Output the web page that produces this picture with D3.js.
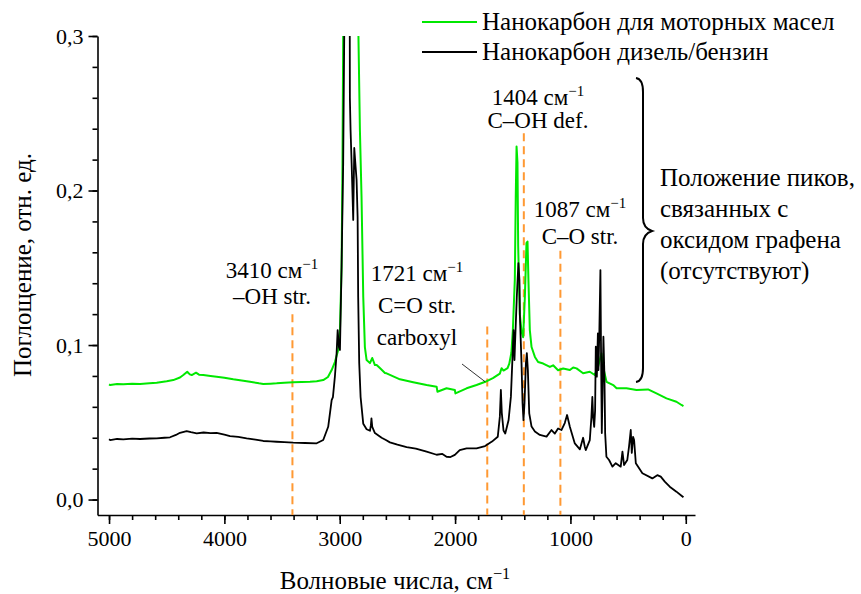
<!DOCTYPE html>
<html>
<head>
<meta charset="utf-8">
<script src="https://cdn.jsdelivr.net/npm/d3@7"></script>
<style>
  body { margin: 0; background: #fff; }
</style>
</head>
<body>
<svg id="chart" width="861" height="594"></svg>
<script>
// IR absorbance spectra: wavenumber (cm-1) and absorbance (arb. units)
const greenWn = [5000, 4990, 4930, 4876, 4800, 4731, 4650, 4587, 4500, 4443, 4385, 4356, 4322, 4300, 4283, 4246, 4220, 4183, 4120, 4067, 4000, 3923, 3850, 3778, 3700, 3663, 3600, 3547, 3480, 3403, 3330, 3258, 3200, 3143, 3102, 3070, 3042, 3013, 2998, 2984, 2976, 2970, 2960, 2900, 2850, 2842, 2825, 2811, 2796, 2782, 2767, 2738, 2718, 2695, 2680, 2652, 2608, 2594, 2478, 2363, 2247, 2160, 2153, 2074, 2002, 1997, 1900, 1814, 1738, 1672, 1612, 1597, 1580, 1545, 1530, 1512, 1499, 1482, 1474, 1467, 1459, 1453, 1439, 1424, 1410, 1395, 1381, 1372, 1364, 1352, 1337, 1308, 1280, 1236, 1178, 1150, 1107, 1063, 1005, 976, 947, 890, 832, 789, 760, 731, 717, 687, 629, 600, 514, 427, 327, 254, 167, 81, 37, 20];
const greenAbs = [0.0745, 0.0741, 0.0748, 0.0746, 0.0750, 0.0748, 0.0752, 0.0756, 0.0765, 0.0773, 0.0790, 0.0806, 0.0827, 0.0810, 0.0806, 0.0821, 0.0808, 0.0806, 0.0800, 0.0795, 0.0788, 0.0778, 0.0770, 0.0762, 0.0752, 0.0748, 0.0750, 0.0752, 0.0756, 0.0759, 0.0760, 0.0762, 0.0765, 0.0773, 0.0793, 0.0838, 0.0890, 0.0968, 0.1097, 0.1505, 0.218, 0.2994, 0.40, 0.40, 0.40, 0.32, 0.239, 0.196, 0.131, 0.0987, 0.0903, 0.0883, 0.0916, 0.0870, 0.0871, 0.0851, 0.0819, 0.0817, 0.0778, 0.0759, 0.0741, 0.0730, 0.0698, 0.0720, 0.0709, 0.0687, 0.0720, 0.0741, 0.0762, 0.0786, 0.0815, 0.0850, 0.0835, 0.0850, 0.0880, 0.0950, 0.1097, 0.1425, 0.196, 0.2285, 0.218, 0.164, 0.120, 0.109, 0.105, 0.131, 0.166, 0.167, 0.142, 0.1097, 0.0987, 0.0923, 0.0890, 0.0880, 0.0858, 0.0869, 0.0837, 0.0848, 0.0838, 0.0855, 0.0849, 0.0817, 0.0827, 0.0806, 0.0860, 0.0946, 0.0860, 0.0762, 0.0741, 0.0720, 0.0720, 0.0709, 0.0713, 0.0687, 0.0655, 0.0633, 0.0612, 0.0605];

const blackWn = [5000, 4990, 4930, 4876, 4800, 4731, 4650, 4587, 4520, 4471, 4420, 4385, 4327, 4290, 4240, 4180, 4120, 4067, 4000, 3951, 3880, 3807, 3730, 3663, 3600, 3547, 3480, 3403, 3300, 3200, 3143, 3100, 3070, 3059, 3042, 3027, 3018, 3007, 2998, 2984, 2970, 2961, 2950, 2915, 2912, 2906, 2897, 2883, 2874, 2862, 2854, 2845, 2840, 2831, 2819, 2796, 2767, 2738, 2730, 2725, 2718, 2695, 2637, 2600, 2565, 2500, 2420, 2340, 2247, 2160, 2110, 2074, 2040, 2002, 1960, 1900, 1814, 1740, 1680, 1630, 1612, 1603, 1595, 1580, 1565, 1536, 1516, 1502, 1493, 1485, 1480, 1465, 1451, 1442, 1438, 1424, 1415, 1407, 1398, 1386, 1378, 1369, 1357, 1337, 1308, 1265, 1207, 1164, 1135, 1107, 1078, 1049, 1029, 1005, 962, 918, 890, 875, 867, 832, 818, 810, 803, 794, 786, 780, 771, 762, 757, 749, 740, 734, 728, 722, 714, 705, 699, 688, 665, 636, 607, 564, 549, 535, 507, 492, 477, 468, 457, 448, 433, 376, 290, 247, 217, 182, 139, 81, 37, 20];
const blackAbs = [0.0390, 0.0385, 0.0392, 0.0390, 0.0394, 0.0392, 0.0395, 0.0396, 0.0400, 0.0403, 0.0418, 0.0432, 0.0443, 0.0436, 0.0428, 0.0434, 0.0430, 0.0432, 0.0420, 0.0411, 0.0405, 0.0396, 0.0388, 0.0379, 0.0376, 0.0374, 0.0371, 0.0368, 0.0366, 0.0364, 0.0385, 0.0471, 0.0644, 0.0663, 0.0795, 0.0948, 0.1097, 0.0987, 0.0968, 0.1505, 0.218, 0.2994, 0.40, 0.40, 0.260, 0.239, 0.218, 0.181, 0.2275, 0.215, 0.207, 0.183, 0.131, 0.0883, 0.0663, 0.0490, 0.0455, 0.0445, 0.0480, 0.0525, 0.0470, 0.0430, 0.0400, 0.0385, 0.0370, 0.0355, 0.0340, 0.0330, 0.0310, 0.0290, 0.0295, 0.0277, 0.0275, 0.0289, 0.0320, 0.0331, 0.0331, 0.0346, 0.0375, 0.0406, 0.0535, 0.0709, 0.0561, 0.0447, 0.0427, 0.0515, 0.0666, 0.0925, 0.1097, 0.0903, 0.1013, 0.131, 0.153, 0.142, 0.119, 0.0882, 0.0623, 0.0514, 0.0625, 0.0882, 0.0948, 0.0838, 0.0558, 0.0472, 0.0440, 0.0418, 0.0407, 0.0450, 0.0427, 0.0460, 0.0450, 0.0495, 0.0547, 0.0471, 0.0363, 0.0325, 0.0400, 0.0340, 0.0320, 0.0385, 0.0534, 0.0664, 0.0534, 0.0470, 0.0577, 0.0989, 0.0795, 0.1075, 0.0838, 0.1097, 0.1485, 0.0903, 0.0430, 0.0686, 0.1054, 0.0795, 0.0430, 0.0277, 0.0256, 0.0213, 0.0235, 0.0213, 0.0310, 0.0223, 0.0256, 0.0342, 0.0450, 0.0302, 0.0406, 0.0385, 0.0235, 0.0170, 0.0137, 0.0158, 0.0148, 0.0116, 0.0083, 0.0051, 0.0025, 0.0015];

const seriesNames = ["Нанокарбон для моторных масел", "Нанокарбон дизель/бензин"];
const seriesColors = ["#00e800", "#000000"];

// Assigned band positions (cm-1) and their labels
const bandWn = [3410, 1721, 1404, 1087];
const bandTop = [0.12, 0.112, 0.237, 0.161];
const bandLabels = [["3410 см", "–OH str."], ["1721 см", "C=O str.", "carboxyl"], ["1404 см", "C–OH def."], ["1087 см", "C–O str."]];

const xMajorTicks = [5000, 4000, 3000, 2000, 1000, 0];
const xMinorTicks = d3.range(5000, -1, -200);
const yMajorTicks = [0, 0.1, 0.2, 0.3];
const yMinorTicks = [0, 0.02, 0.04, 0.06, 0.08, 0.1, 0.12, 0.14, 0.16, 0.18, 0.2, 0.22, 0.24, 0.26, 0.28, 0.3];
const yTickLabels = ["0,0", "0,1", "0,2", "0,3"];

const braceNote = ["Положение пиков,", "связанных с", "оксидом графена", "(отсутствуют)"];

const FONT = '"Liberation Serif", "Times New Roman", serif';
const svg = d3.select("#chart");
const x = d3.scaleLinear().domain([5100, -80]).range([97.5, 695]);
const y = d3.scaleLinear().domain([-0.01, 0.3]).range([515, 36]);

svg.append("defs").append("clipPath").attr("id", "plotClip")
  .append("rect").attr("x", x(5100)).attr("y", y(0.3))
  .attr("width", x(-80) - x(5100)).attr("height", y(-0.01) - y(0.3));

// Axes: minor ticks first, then labelled major ticks
const gx = svg.append("g").attr("transform", `translate(0,${y(-0.01)})`);
gx.call(d3.axisBottom(x).tickValues(xMinorTicks).tickSize(5).tickSizeOuter(0).tickFormat(""));
gx.append("g").call(d3.axisBottom(x).tickValues(xMajorTicks).tickSize(9).tickSizeOuter(0).tickPadding(6).tickFormat(d3.format("d")))
  .call(g => g.select(".domain").remove());
const gy = svg.append("g").attr("transform", `translate(${x(5100)},0)`);
gy.call(d3.axisLeft(y).tickValues(yMinorTicks).tickSize(5).tickSizeOuter(0).tickFormat(""));
gy.append("g").call(d3.axisLeft(y).tickValues(yMajorTicks).tickSize(9).tickSizeOuter(0).tickPadding(5).tickFormat((d, i) => yTickLabels[i]))
  .call(g => g.select(".domain").remove());
svg.selectAll(".tick line, .domain").attr("stroke", "#000").attr("stroke-width", 1.6);
svg.selectAll(".tick text").style("font-size", "22px");

// Band marker lines
svg.append("g").selectAll("line").data(bandWn).join("line")
  .attr("x1", d => x(d)).attr("x2", d => x(d))
  .attr("y1", (d, i) => y(bandTop[i])).attr("y2", y(-0.01))
  .attr("stroke", "#ff9933").attr("stroke-width", 2).attr("stroke-dasharray", "8,5");

// Spectra
const line = d3.line().x(d => x(d[0])).y(d => y(d[1]));
const plot = svg.append("g").attr("clip-path", "url(#plotClip)");
plot.append("path").datum(greenWn.map((w, i) => [w, greenAbs[i]]))
  .attr("d", line).attr("fill", "none").attr("stroke", seriesColors[0]).attr("stroke-width", 2).attr("stroke-linejoin", "round");
plot.append("path").datum(blackWn.map((w, i) => [w, blackAbs[i]]))
  .attr("d", line).attr("fill", "none").attr("stroke", seriesColors[1]).attr("stroke-width", 1.8).attr("stroke-linejoin", "round");

// Text helper with a superscript "−1"
function labelWithSup(g, xPos, yPos, base, anchor, size) {
  const t = g.append("text").attr("x", xPos).attr("y", yPos).attr("text-anchor", anchor).style("font-size", size + "px");
  t.append("tspan").text(base);
  t.append("tspan").attr("dy", -size * 0.4).style("font-size", (size * 0.65) + "px").text("−1");
  return t;
}

const ann = svg.append("g");
const annPos = [[272, 278], [417, 281], [538, 105], [580, 217]];
const annGap = [26, 32, 23, 27];
bandLabels.forEach((lines, i) => {
  const [ax, ay] = annPos[i];
  lines.forEach((s, j) => {
    if (j === 0) labelWithSup(ann, ax, ay, s, "middle", 23);
    else ann.append("text").attr("x", ax).attr("y", ay + j * annGap[i]).attr("text-anchor", "middle").style("font-size", "23px").text(s);
  });
});
// Leader from the carboxyl label to the curve
ann.append("line").attr("x1", 462).attr("y1", 364).attr("x2", x(1721) - 2).attr("y2", y(0.0762))
  .attr("stroke", "#000").attr("stroke-width", 0.8);

// Curly brace and note
svg.append("path")
  .attr("d", "M636,78 Q643,79 643,92 L643,218 Q643,228 652,231 Q643,234 643,244 L643,368 Q643,381 636,382")
  .attr("fill", "none").attr("stroke", "#000").attr("stroke-width", 2);
braceNote.forEach((s, i) => {
  svg.append("text").attr("x", 660).attr("y", 186 + i * 31).style("font-size", "25px").text(s);
});

// Legend
const legend = svg.append("g");
seriesNames.forEach((name, i) => {
  const ly = 22 + i * 30;
  legend.append("line").attr("x1", 422).attr("x2", 477).attr("y1", ly).attr("y2", ly)
    .attr("stroke", seriesColors[i]).attr("stroke-width", 2);
  legend.append("text").attr("x", 482).attr("y", ly + 8).style("font-size", "25px").text(name);
});

// Axis titles
labelWithSup(svg, 395, 589, "Волновые числа, см", "middle", 25);
svg.append("text").attr("transform", "translate(31,265) rotate(-90)").attr("text-anchor", "middle")
  .style("font-size", "25px").text("Поглощение, отн. ед.");

// One serif face for every label
svg.selectAll("text").style("font-family", FONT).attr("fill", "#000");
</script>
</body>
</html>
